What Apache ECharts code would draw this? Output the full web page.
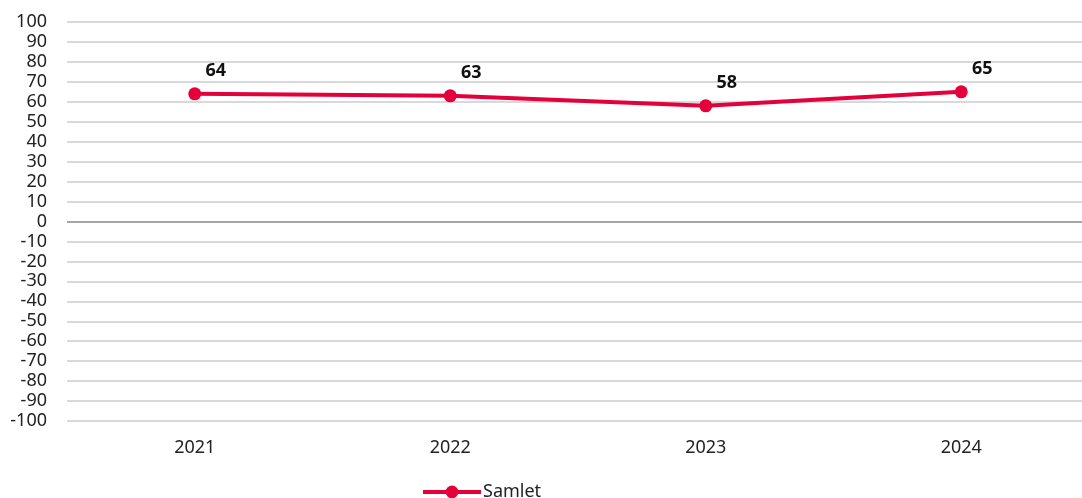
<!DOCTYPE html>
<html>
<head>
<meta charset="utf-8">
<script src="https://cdn.jsdelivr.net/npm/echarts@6/dist/echarts.min.js"></script>
<style>
  html, body { margin: 0; padding: 0; background: #fff; overflow: hidden; }
  /* the plot area runs a little past the right edge of the view */
  #chart { width: 1092px; height: 498px; }
</style>
</head>
<body>
<div id="chart"></div>
<script>
// Yearly scores for the combined index
const years = ['2021', '2022', '2023', '2024'];
const samlet = [64, 63, 58, 65];
const seriesName = 'Samlet';

const yMin = -100, yMax = 100, yStep = 10;

// Gridline colours: the zero line is drawn darker than the rest
const gridColors = [];
for (let v = yMin; v <= yMax; v += yStep) {
  gridColors.push(v === 0 ? '#a6a6a6' : '#d9d9d9');
}

const FONT = '"Noto Sans", "Open Sans", sans-serif';
const RED = '#e4003a';

const chart = echarts.init(document.getElementById('chart'), null, { renderer: 'canvas' });
chart.setOption({
  animation: false,
  grid: { left: 67, top: 22, width: 1022, bottom: 77, containLabel: false },
  legend: {
    data: [seriesName],
    left: 416,
    top: 478,
    itemWidth: 58,
    itemHeight: 16,
    itemGap: 4,
    lineStyle: { width: 4 },
    textStyle: { fontFamily: FONT, fontSize: 18, color: '#222', padding: [0, 0, 0, -3] }
  },
  xAxis: {
    type: 'category',
    data: years,
    boundaryGap: true,
    axisLine: { show: false },
    axisTick: { show: false },
    axisLabel: { margin: 18, fontFamily: FONT, fontSize: 18, color: '#222' }
  },
  yAxis: {
    type: 'value',
    min: yMin,
    max: yMax,
    interval: yStep,
    axisLine: { show: false },
    axisTick: { show: false },
    axisLabel: { margin: 20, fontFamily: FONT, fontSize: 18, color: '#222' },
    splitLine: { show: true, lineStyle: { color: gridColors, width: 2 } }
  },
  series: [{
    name: seriesName,
    type: 'line',
    data: samlet,
    color: RED,
    symbol: 'circle',
    symbolSize: 13,
    lineStyle: { width: 4, color: RED },
    itemStyle: { color: RED },
    label: {
      show: true,
      position: 'top',
      offset: [21, -2],
      fontFamily: FONT,
      fontWeight: 'bold',
      fontSize: 18,
      color: '#111'
    }
  }]
});
</script>
</body>
</html>
